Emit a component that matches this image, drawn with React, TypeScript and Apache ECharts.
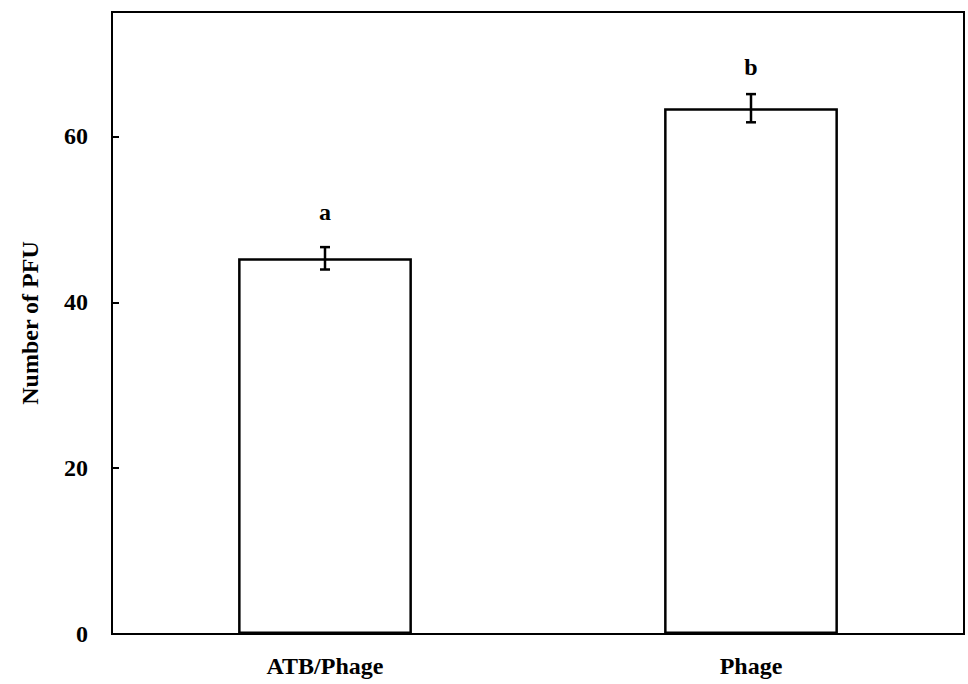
import React, { useEffect, useRef } from "react";
import * as echarts from "echarts";

const categories = ["ATB/Phage", "Phage"];
const values = [45.3, 63.4];
const errors = [1.35, 1.7];
const letters = ["a", "b"];
const letterY = [50.9, 68.4];
const yTicks = [0, 20, 40, 60];

const FONT = "'Liberation Serif', 'DejaVu Serif', serif";
const FS = 24;

export default function App() {
  const ref = useRef<HTMLDivElement>(null);
  useEffect(() => {
    document.body.style.margin = "0";
    const chart = echarts.init(ref.current!, null, { renderer: "svg" });
    chart.setOption({
      animation: false,
      backgroundColor: "#ffffff",
      grid: {
        left: 112,
        right: 4,
        top: 12,
        bottom: 50,
        show: true,
        borderColor: "#000",
        borderWidth: 2,
        backgroundColor: "transparent",
      },
      xAxis: {
        type: "category",
        data: categories,
        axisLine: { lineStyle: { color: "#000", width: 2 } },
        axisTick: { show: false },
        axisLabel: {
          color: "#000",
          fontFamily: FONT,
          fontSize: FS,
          fontWeight: "bold",
          margin: 20,
        },
      },
      yAxis: {
        type: "value",
        min: 0,
        max: 75,
        interval: 20,
        name: "Number of PFU",
        nameLocation: "middle",
        nameGap: 70,
        nameTextStyle: {
          color: "#000",
          fontFamily: FONT,
          fontSize: FS,
          fontWeight: "bold",
        },
        axisLine: { show: true, lineStyle: { color: "#000", width: 2 } },
        axisTick: { show: true, inside: true, length: 7, lineStyle: { color: "#000", width: 2 } },
        axisLabel: {
          color: "#000",
          fontFamily: FONT,
          fontSize: FS,
          fontWeight: "bold",
          margin: 24,
          customValues: yTicks,
        },
        splitLine: { show: false },
      },
      series: [
        {
          type: "bar",
          data: values,
          barWidth: "40.8%",
          itemStyle: { color: "#fff", borderColor: "#000", borderWidth: 2.5 },
          z: 2,
        },
        {
          type: "custom",
          z: 5,
          data: values.map((v, i) => [i, v, errors[i]]),
          renderItem: (params: any, api: any) => {
            const x = api.value(0);
            const v = api.value(1);
            const e = api.value(2);
            const top = api.coord([x, v + e]);
            const bot = api.coord([x, v - e]);
            const hw = 5;
            const style = { stroke: "#000", lineWidth: 2.5 };
            return {
              type: "group",
              children: [
                { type: "line", shape: { x1: top[0], y1: top[1], x2: bot[0], y2: bot[1] }, style },
                { type: "line", shape: { x1: top[0] - hw, y1: top[1], x2: top[0] + hw, y2: top[1] }, style },
                { type: "line", shape: { x1: bot[0] - hw, y1: bot[1], x2: bot[0] + hw, y2: bot[1] }, style },
              ],
            };
          },
        },
        {
          type: "custom",
          z: 5,
          data: letterY.map((y, i) => [i, y]),
          renderItem: (params: any, api: any) => {
            const p = api.coord([api.value(0), api.value(1)]);
            return {
              type: "text",
              x: p[0],
              y: p[1],
              style: {
                text: letters[params.dataIndex],
                fill: "#000",
                font: `bold ${FS}px ${FONT}`,
                align: "center",
                verticalAlign: "middle",
              },
            };
          },
        },
      ],
    });
    return () => chart.dispose();
  }, []);
  return <div ref={ref} style={{ width: 968, height: 684 }} />;
}
